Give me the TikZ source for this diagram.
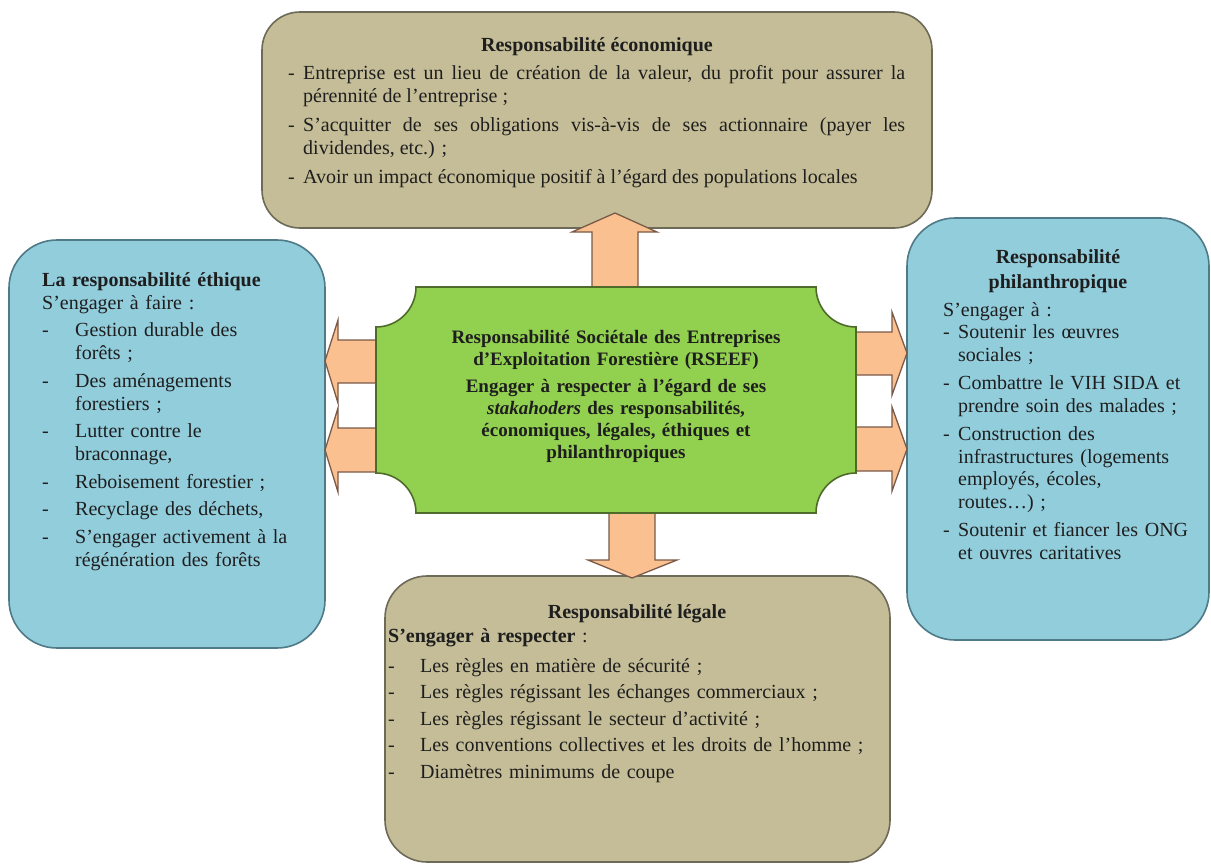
\documentclass[tikz,border=0pt]{standalone}
\usepackage{fontspec}
\setmainfont{Liberation Serif}
\definecolor{tanfill}{HTML}{C4BD97}
\definecolor{tanline}{HTML}{6E6A58}
\definecolor{bluefill}{HTML}{92CDDC}
\definecolor{blueline}{HTML}{4F7A88}
\definecolor{greenfill}{HTML}{92D050}
\definecolor{greenline}{HTML}{4E6B2A}
\definecolor{peach}{HTML}{FAC090}
\definecolor{arrowline}{HTML}{7A5A48}
\definecolor{ink}{HTML}{1E1E1E}
\newcommand\hitem[2]{\hangindent=#1\hangafter=1\noindent\makebox[#1][l]{-}#2\par}
\tikzset{
  box/.style={rectangle, line width=1.6pt, inner sep=0pt},
  tanbox/.style={box, draw=tanline, fill=tanfill},
  bluebox/.style={box, draw=blueline, fill=bluefill},
  blockarrow/.style={fill=peach, draw=arrowline, line width=1.3pt, line join=miter},
  txt/.style={inner sep=0pt, text=ink, font=\fontsize{20}{23}\selectfont},
}
\begin{document}
\begin{tikzpicture}[x=1pt,y=-1pt]
\useasboundingbox (0,0) rectangle (1211,865);
\fill[white] (0,0) rectangle (1211,865);

% boxes
\node[tanbox, rounded corners=38pt, minimum width=670pt, minimum height=216pt] (econ) at (597,120) {};
\node[bluebox, rounded corners=48pt, minimum width=316pt, minimum height=408pt] (ethic) at (167,444) {};
\node[bluebox, rounded corners=48pt, minimum width=302pt, minimum height=422pt] (phil) at (1058,429) {};
\node[tanbox, rounded corners=42pt, minimum width=505pt, minimum height=286pt] (legal) at (637.5,719) {};

% block arrows
\draw[blockarrow] (592,287) -- (592,232) -- (572,232) -- (615,213) -- (657,232) -- (638,232) -- (638,287) -- cycle;
\draw[blockarrow] (609,513) -- (609,560) -- (588,560) -- (632,578) -- (677,560) -- (655,560) -- (655,513) -- cycle;
\draw[blockarrow] (380,340) -- (338,340) -- (338,320) -- (325,361) -- (338,403) -- (338,383) -- (380,383) -- cycle;
\draw[blockarrow] (380,428) -- (338,428) -- (338,408) -- (325,450) -- (338,492) -- (338,472) -- (380,472) -- cycle;
\draw[blockarrow] (852,332) -- (892,332) -- (892,312) -- (907,353) -- (892,395) -- (892,375) -- (852,375) -- cycle;
\draw[blockarrow] (852,427) -- (892,427) -- (892,407) -- (907,449) -- (892,491) -- (892,471) -- (852,471) -- cycle;

% central plaque
\draw[fill=greenfill, draw=greenline, line width=1.6pt]
  (416,287) -- (816,287) arc[start angle=180, end angle=270, radius=40pt]
  -- (856,473) arc[start angle=90, end angle=180, radius=40pt]
  -- (416,513) arc[start angle=0, end angle=90, radius=40pt]
  -- (376,327) arc[start angle=270, end angle=360, radius=40pt] -- cycle;

% econ text
\node[txt, anchor=base] (econT) at (597,51) {\textbf{Responsabilité économique}};
\node[txt, anchor=base west, text width=617pt, align=justify] (econL) at (288,79) {%
\setlength\parskip{6pt}%
\hitem{15pt}{Entreprise est un lieu de création de la valeur, du profit pour assurer la\linebreak pérennité de l’entreprise ;}%
\hitem{15pt}{S’acquitter de ses obligations vis-à-vis de ses actionnaire (payer les\linebreak dividendes, etc.) ;}%
\hitem{15pt}{Avoir un impact économique positif à l’égard des populations locales}};

% ethic text
\node[txt, anchor=base west, text width=278pt, align=left] (ethicL) at (42,286) {%
\setlength\parskip{4.5pt}%
\textbf{La responsabilité éthique}\newline S’engager à faire :\par
\hitem{33pt}{Gestion durable des\newline forêts ;}%
\hitem{33pt}{Des aménagements\newline forestiers ;}%
\hitem{33pt}{Lutter contre le\newline braconnage,}%
\hitem{33pt}{Reboisement forestier ;}%
\hitem{33pt}{Recyclage des déchets,}%
\hitem{33pt}{S’engager activement à la\newline régénération des forêts}};

% philanthropic text
\node[txt, anchor=base, text width=290pt, align=center, font=\fontsize{20}{25}\selectfont] (philT) at (1058,263) {\textbf{Responsabilité}\\\textbf{philanthropique}};
\node[txt, anchor=base west, text width=262pt, align=left, font=\fontsize{20}{22.5}\selectfont] (philL) at (943,316) {%
\setlength\parskip{6pt}%
S’engager à :\par\vspace{-6pt}%
\hitem{15pt}{Soutenir les œuvres\newline sociales ;}%
\hitem{15pt}{Combattre le VIH SIDA et\newline prendre soin des malades ;}%
\hitem{15pt}{Construction des\newline infrastructures (logements\newline employés, écoles,\newline routes…) ;}%
\hitem{15pt}{Soutenir et fiancer les ONG\newline et ouvres caritatives}};

% legal text
\node[txt, anchor=base] (legalT) at (637,618) {\textbf{Responsabilité légale}};
\node[txt, anchor=base west, text width=495pt, align=left, font=\fontsize{20}{26.5}\selectfont] (legalL) at (388,642) {%
\textbf{S’engager à respecter} :\par\vspace{3.5pt}%
\hitem{32pt}{Les règles en matière de sécurité ;}%
\hitem{32pt}{Les règles régissant les échanges commerciaux ;}%
\hitem{32pt}{Les règles régissant le secteur d’activité ;}%
\hitem{32pt}{Les conventions collectives et les droits de l’homme ;}%
\hitem{32pt}{Diamètres minimums de coupe}};

% central text
\node[txt, anchor=base, text width=470pt, align=center, font=\fontsize{19}{22}\selectfont\bfseries] (rseeT) at (616,343) {%
Responsabilité Sociétale des Entreprises\\
d’Exploitation Forestière (RSEEF)\\[5pt]
Engager à respecter à l’égard de ses\\
\textit{stakahoders} des responsabilités,\\
économiques, légales, éthiques et\\
philanthropiques};
\end{tikzpicture}
\end{document}
